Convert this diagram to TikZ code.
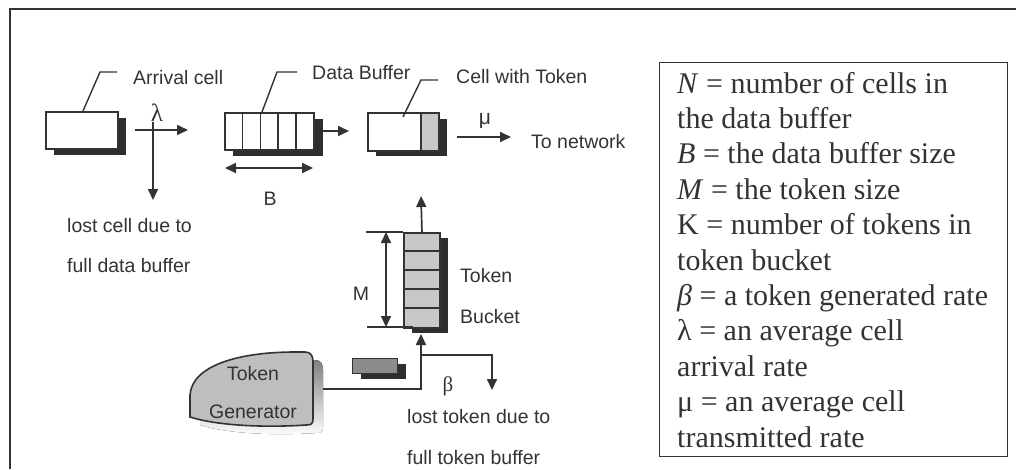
\documentclass[tikz,border=0pt]{standalone}
\usepackage{fontspec}
\setmainfont{Liberation Serif}
\setsansfont{Liberation Sans}
\usetikzlibrary{arrows.meta}
\definecolor{ink}{HTML}{333333}
\definecolor{shade}{HTML}{2E2E2E}
\definecolor{lgray}{HTML}{C8C8C8}
\definecolor{mgray}{HTML}{8C8C8C}
\definecolor{ggray}{HTML}{BEBEBE}
\begin{document}
\begin{tikzpicture}[x=1pt,y=-1pt,
  lab/.style={font=\sffamily\fontsize{19.5}{23}\selectfont, text=ink, inner sep=0pt},
  leg/.style={font=\fontsize{30}{35}\selectfont, text=ink, inner sep=0pt, anchor=base west},
  conn/.style={draw=ink, line width=1.7pt},
  arr/.style={conn, -{Triangle[length=11pt,width=10pt]}},
  darr/.style={conn, {Triangle[length=11pt,width=10pt]}-{Triangle[length=11pt,width=10pt]}},
  shadow/.style={fill=shade, draw=none},
  cellbox/.style={draw=ink, line width=1.9pt, inner sep=0pt, anchor=north west},
  leader/.style={draw=ink, line width=1.4pt}]
\useasboundingbox (0,0) rectangle (1016,469);
% outer frame (cut at right and bottom)
\draw[ink, line width=2pt] (10,469) -- (10,9) -- (1016,9);

% ---------- Arrival cell ----------
\fill[shadow] (54,118) rectangle (126,155);
\node[cellbox, fill=white, minimum width=72pt, minimum height=37pt] (arrcell) at (45,111) {};
\coordinate (arrL1) at (100,72);
\coordinate (arrL2) at (117,72);
\draw[leader] (83,111) -- (arrL1) -- (arrL2);
\node[lab, anchor=base west] (arrtxt) at (133,84) {Arrival cell};

% lambda arrow and lost-cell branch
\coordinate (lamA) at (135,130);
\coordinate (lamB) at (188,130);
\draw[arr] (lamA) -- (lamB);
\node[font=\fontsize{25}{27}\selectfont, text=ink, inner sep=0pt] (lam) at (157,113) {λ};
\coordinate (lostC) at (153,200);
\draw[arr] (lam.south -| lostC) -- (lostC);
\node[lab, anchor=base west] (lc1) at (67,232) {lost cell due to};
\node[lab, anchor=base west] (lc2) at (67,272) {full data buffer};

% ---------- Data buffer ----------
\fill[shadow] (233,119) rectangle (323,156);
\node[cellbox, fill=white, minimum width=89pt, minimum height=37pt] (buf) at (224,112) {};
\foreach \xx in {242.5,260.5,278,296} \draw[ink, line width=1.6pt] (\xx,112) -- (\xx,149);
\coordinate (bufL1) at (277,72);
\coordinate (bufL2) at (297,72);
\draw[leader] (262,112) -- (bufL1) -- (bufL2);
\node[lab, anchor=base west] (buftxt) at (312,79) {Data Buffer};
\coordinate (Bl) at (225,168);
\coordinate (Br) at (313,168);
\draw[darr] (Bl) -- (Br);
\node[lab, anchor=base] (Blab) at (270,205) {B};
\coordinate (bufout) at (323,131);
\coordinate (cwtin) at (349,131);
\draw[arr] (bufout) -- (cwtin);

% ---------- Cell with token ----------
\fill[shadow] (376,119) rectangle (447,156);
\fill[white] (367,112) rectangle (421,150);
\fill[lgray] (421,112) rectangle (438,150);
\node[cellbox, minimum width=71pt, minimum height=38pt] (cwt) at (367,112) {};
\draw[ink, line width=1.6pt] (421,112) -- (421,150);
\coordinate (cwtL1) at (421,80);
\coordinate (cwtL2) at (438,80);
\draw[leader] (403,117) -- (cwtL1) -- (cwtL2);
\node[lab, anchor=base west] (cwttxt) at (456,83) {Cell with Token};
\coordinate (muA) at (457,137);
\coordinate (muB) at (511,137);
\draw[arr] (muA) -- (muB);
\node[lab, font=\sffamily\fontsize{21}{23}\selectfont] (mu) at (485,121) {μ};
\node[lab, anchor=base west] (net) at (531,148) {To network};

% ---------- Token bucket ----------
\fill[shadow] (412,238) rectangle (448,333);
\node[cellbox, fill=lgray, minimum width=36pt, minimum height=95pt] (bkt) at (403,232) {};
\foreach \yy in {251,270,289,308} \draw[ink, line width=1.6pt] (403,\yy) -- (439,\yy);
\coordinate (bktout) at (421,196);
\draw[arr] (bkt.north) -- (bktout);
\coordinate (Mtop) at (366,232);
\coordinate (Mbot) at (367,327);
\draw[conn, line width=1.4pt] (Mtop) -- (bkt.north west);
\draw[conn, line width=1.4pt] (Mbot) -- (413,327);
\coordinate (Ma) at (386,232);
\coordinate (Mb) at (386,327);
\draw[darr] (Ma) -- (Mb);
\node[lab, anchor=base] (Mlab) at (361,300) {M};
\node[lab, anchor=base west] (tb1) at (460,282) {Token};
\node[lab, anchor=base west] (tb2) at (460,323) {Bucket};

% ---------- Token generator ----------
\begin{scope}[shift={(10,8)}]
\fill[shade] (190,417) -- (190,395) .. controls (192,365) and (240,352) .. (295,352) -- (305,352)
  .. controls (311,352) and (313,356) .. (313,362) -- (313,419)
  .. controls (313,424) and (311,425) .. (306,425) .. controls (260,428) and (215,425) .. (190,417) -- cycle;
\end{scope}
\draw[ink, line width=1.6pt, fill=ggray] (190,417) -- (190,395) .. controls (192,365) and (240,352) .. (295,352) -- (305,352)
  .. controls (311,352) and (313,356) .. (313,362) -- (313,419)
  .. controls (313,424) and (311,425) .. (306,425) .. controls (260,428) and (215,425) .. (190,417) -- cycle;
\node[lab, anchor=base] (gen1) at (253,380) {Token};
\node[lab, anchor=base] (gen2) at (253,418) {Generator};
\coordinate (genout) at (323,389);
\coordinate (bktin) at (421,334);
\draw[arr] (genout) -| (bktin);
\coordinate (br) at (421,355);
\coordinate (lostT) at (492,390);
\draw[arr] (br) -| (lostT);
\node[font=\fontsize{21}{23}\selectfont, text=ink, inner sep=0pt] (beta) at (448,386) {β};

% small token
\fill[shadow] (361,364) rectangle (406,379);
\node[draw=ink, line width=1.3pt, fill=mgray, inner sep=0pt, minimum width=45pt, minimum height=15pt, anchor=north west] (tok) at (352,358) {};

\node[lab, anchor=base west] (lt1) at (407,423) {lost token due to};
\node[lab, anchor=base west] (lt2) at (407,464) {full token buffer};

% ---------- Legend ----------
\node[draw=ink, line width=1.3pt, inner sep=0pt, minimum width=348pt, minimum height=394pt, anchor=north west] (legend) at (659,62) {};
\node[leg] (g1) at (677,93) {\textit{N} = number of cells in};
\node[leg] (g2) at (677,128.4) {the data buffer};
\node[leg] (g3) at (677,163.8) {\textit{B} = the data buffer size};
\node[leg] (g4) at (677,199.2) {\textit{M} = the token size};
\node[leg] (g5) at (677,234.6) {K = number of tokens in};
\node[leg] (g6) at (677,270) {token bucket};
\node[leg] (g7) at (677,305.4) {\textit{β} = a token generated rate};
\node[leg] (g8) at (677,340.8) {λ = an average cell};
\node[leg] (g9) at (677,376.2) {arrival rate};
\node[leg] (g10) at (677,411.6) {μ = an average cell};
\node[leg] (g11) at (677,447) {transmitted rate};
\end{tikzpicture}
\end{document}
